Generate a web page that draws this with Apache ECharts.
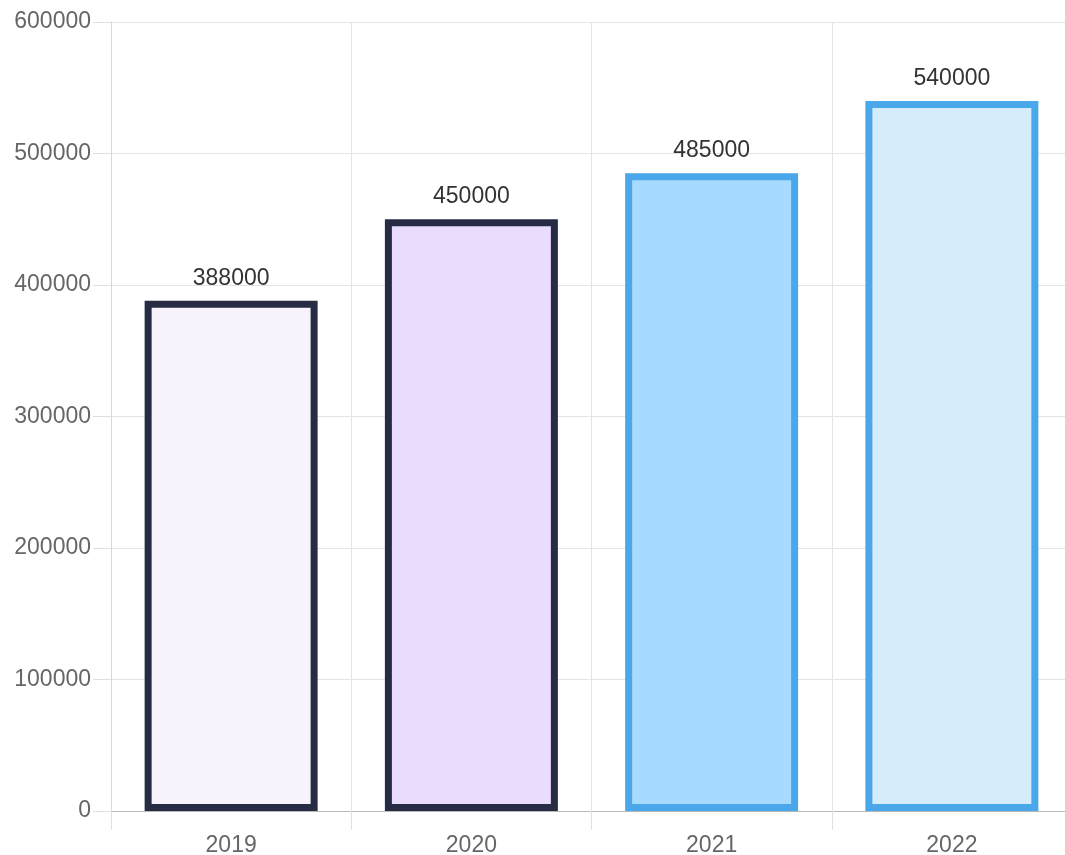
<!DOCTYPE html>
<html>
<head>
<meta charset="utf-8">
<style>
  html, body { margin: 0; padding: 0; background: #fff; }
  #chart { width: 1065px; height: 855px; }
</style>
<script src="https://cdn.jsdelivr.net/npm/echarts@6/dist/echarts.min.js"></script>
</head>
<body>
<div id="chart"></div>
<script>
// Yearly totals
const years = ['2019', '2020', '2021', '2022'];
const totals = [388000, 450000, 485000, 540000];
const fillColors = ['#f8f2fc', '#e9dcfd', '#a7daff', '#d5ecfb'];
const borderColors = ['#262c44', '#262c44', '#4aa8ea', '#4aa8ea'];

const chart = echarts.init(document.getElementById('chart'));
const labelFont = { fontFamily: 'Arial, "Liberation Sans", sans-serif', fontSize: 23 };

chart.setOption({
  animation: false,
  grid: {
    left: 111, width: 961, top: 22, height: 789,
    containLabel: false,
    outerBoundsMode: 'none'
  },
  xAxis: {
    type: 'category',
    data: years,
    boundaryGap: true,
    axisLine: { show: true, lineStyle: { color: '#b8b8b8', width: 1 } },
    axisTick: { show: true, length: 19, lineStyle: { color: '#e0e0e0' } },
    axisLabel: Object.assign({ color: '#666', margin: 23 }, labelFont),
    splitLine: { show: true, lineStyle: { color: '#e4e4e4' } }
  },
  yAxis: {
    type: 'value',
    min: 0,
    max: 600000,
    interval: 100000,
    axisLine: { show: true, lineStyle: { color: '#d8d8d8' } },
    axisTick: { show: true, length: 18, lineStyle: { color: '#e0e0e0' } },
    axisLabel: Object.assign({ color: '#666', margin: 20, formatter: v => String(v) }, labelFont),
    splitLine: { show: true, lineStyle: { color: '#e4e4e4' } }
  },
  series: [{
    type: 'bar',
    barCategoryGap: '28%',
    data: totals.map((v, i) => ({
      value: v,
      itemStyle: { color: fillColors[i], borderColor: borderColors[i], borderWidth: 7 }
    })),
    label: Object.assign({
      show: true,
      position: 'top',
      distance: 11,
      color: '#333'
    }, labelFont)
  }]
});
</script>
</body>
</html>
